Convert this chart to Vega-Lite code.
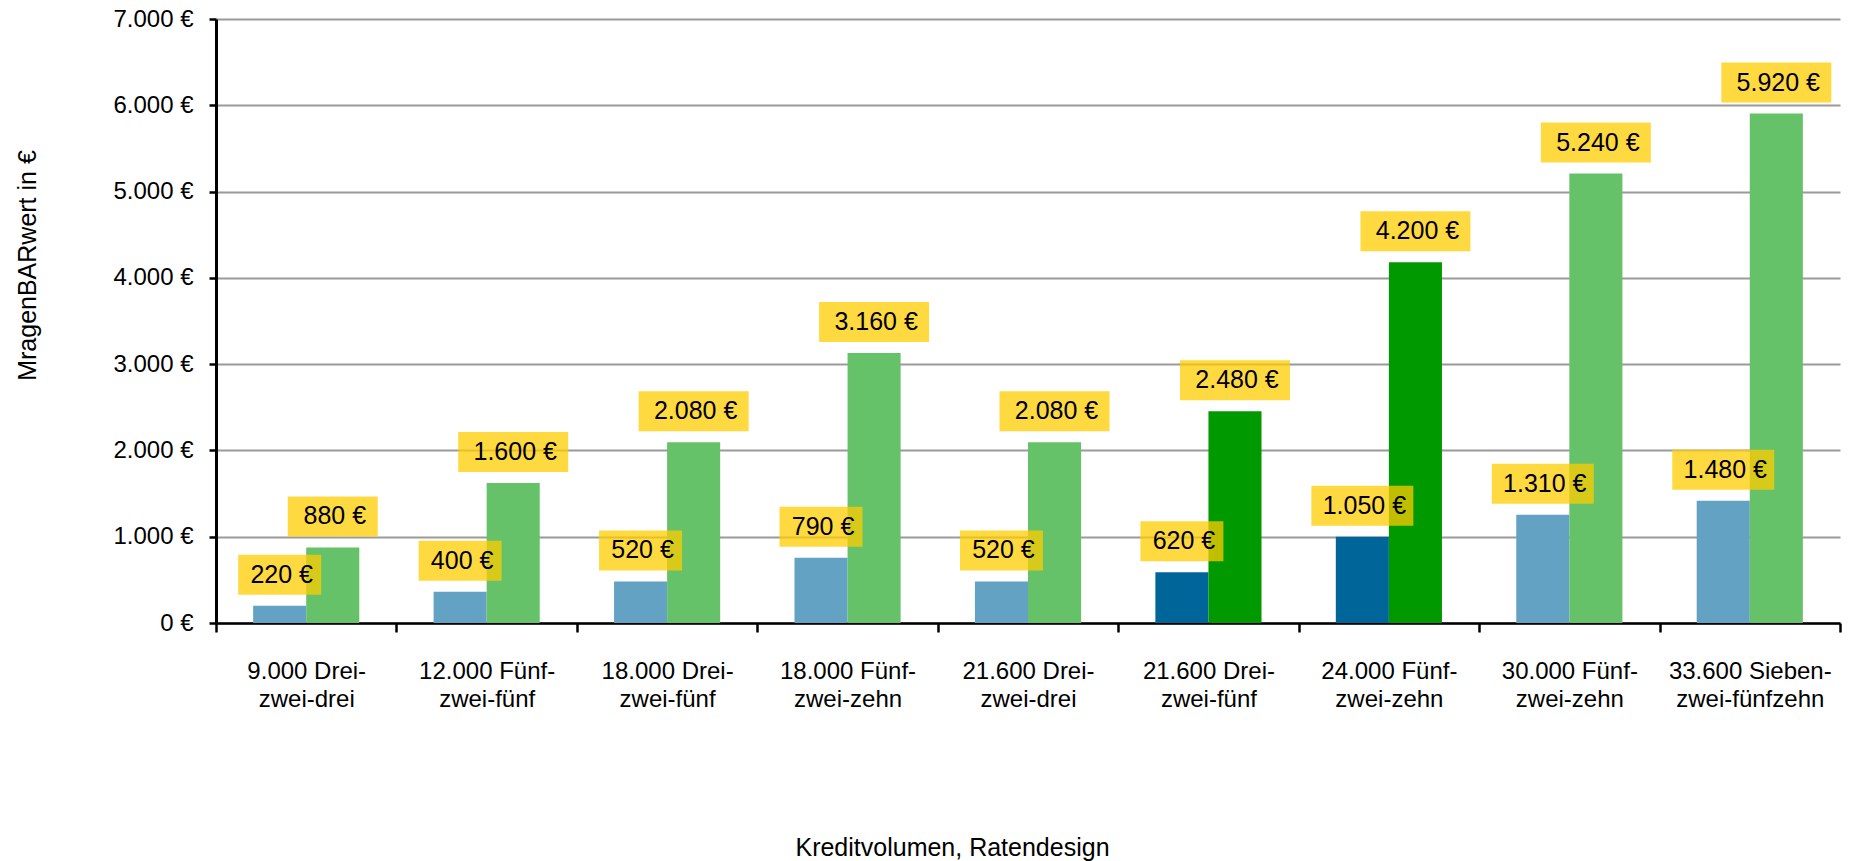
{
  "$schema": "https://vega.github.io/schema/vega-lite/v6.json",
  "width": 1624,
  "height": 604,
  "autosize": "none",
  "padding": {"left": 216, "top": 19, "right": 10, "bottom": 238},
  "background": "white",
  "config": {
    "locale": {"number": {"decimal": ",", "thousands": ".", "grouping": [3], "currency": ["", " €"]}},
    "font": "Liberation Sans",
    "view": {"stroke": null}
  },
  "data": {
    "values": [
      {"kat": "9.000 Drei-zwei-drei", "serie": "Serie 1", "gruppe": "Serie 1", "wert": 200, "label": 220},
      {"kat": "9.000 Drei-zwei-drei", "serie": "Serie 2", "gruppe": "Serie 2", "wert": 876, "label": 880},
      {"kat": "12.000 Fünf-zwei-fünf", "serie": "Serie 1", "gruppe": "Serie 1", "wert": 363, "label": 400},
      {"kat": "12.000 Fünf-zwei-fünf", "serie": "Serie 2", "gruppe": "Serie 2", "wert": 1623, "label": 1600},
      {"kat": "18.000 Drei-zwei-fünf", "serie": "Serie 1", "gruppe": "Serie 1", "wert": 482, "label": 520},
      {"kat": "18.000 Drei-zwei-fünf", "serie": "Serie 2", "gruppe": "Serie 2", "wert": 2094, "label": 2080},
      {"kat": "18.000 Fünf-zwei-zehn", "serie": "Serie 1", "gruppe": "Serie 1", "wert": 757, "label": 790},
      {"kat": "18.000 Fünf-zwei-zehn", "serie": "Serie 2", "gruppe": "Serie 2", "wert": 3130, "label": 3160},
      {"kat": "21.600 Drei-zwei-drei", "serie": "Serie 1", "gruppe": "Serie 1", "wert": 482, "label": 520},
      {"kat": "21.600 Drei-zwei-drei", "serie": "Serie 2", "gruppe": "Serie 2", "wert": 2094, "label": 2080},
      {"kat": "21.600 Drei-zwei-fünf", "serie": "Serie 1", "gruppe": "Serie 1 markiert", "wert": 587, "label": 620},
      {"kat": "21.600 Drei-zwei-fünf", "serie": "Serie 2", "gruppe": "Serie 2 markiert", "wert": 2453, "label": 2480},
      {"kat": "24.000 Fünf-zwei-zehn", "serie": "Serie 1", "gruppe": "Serie 1 markiert", "wert": 1000, "label": 1050},
      {"kat": "24.000 Fünf-zwei-zehn", "serie": "Serie 2", "gruppe": "Serie 2 markiert", "wert": 4180, "label": 4200},
      {"kat": "30.000 Fünf-zwei-zehn", "serie": "Serie 1", "gruppe": "Serie 1", "wert": 1255, "label": 1310},
      {"kat": "30.000 Fünf-zwei-zehn", "serie": "Serie 2", "gruppe": "Serie 2", "wert": 5209, "label": 5240},
      {"kat": "33.600 Sieben-zwei-fünfzehn", "serie": "Serie 1", "gruppe": "Serie 1", "wert": 1418, "label": 1480},
      {"kat": "33.600 Sieben-zwei-fünfzehn", "serie": "Serie 2", "gruppe": "Serie 2", "wert": 5904, "label": 5920}
    ]
  },
  "encoding": {
    "x": {
      "field": "kat",
      "type": "nominal",
      "sort": null,
      "scale": {"paddingInner": 0, "paddingOuter": 0},
      "title": "Kreditvolumen, Ratendesign",
      "axis": {
        "labelExpr": "isString(datum.value) ? [slice(datum.value, 0, indexof(datum.value, '-') + 1), slice(datum.value, indexof(datum.value, '-') + 1)] : ''",
        "labelAngle": 0,
        "labelFontSize": 24,
        "labelLineHeight": 28,
        "labelPadding": 27,
        "labelColor": "black",
        "tickBand": "extent",
        "tickSize": 9,
        "tickColor": "black",
        "tickWidth": 2.5,
        "domainColor": "black",
        "domainWidth": 2.5,
        "titleFontSize": 25,
        "titleFontWeight": "normal",
        "titleColor": "black",
        "titleX": 736,
        "titleY": 232,
        "titleAlign": "center",
        "titleBaseline": "alphabetic"
      }
    },
    "xOffset": {"field": "serie", "type": "nominal", "scale": {"paddingInner": 0, "paddingOuter": 0.7}},
    "y": {
      "field": "wert",
      "type": "quantitative",
      "scale": {"domain": [0, 7000]},
      "title": "MragenBARwert in €",
      "axis": {
        "values": [0, 1000, 2000, 3000, 4000, 5000, 6000, 7000],
        "format": "$,d",
        "labelFontSize": 24,
        "labelColor": "black",
        "labelPadding": 16,
        "tickSize": 7,
        "tickColor": "black",
        "tickWidth": 2.5,
        "domainColor": "black",
        "domainWidth": 3,
        "grid": true,
        "gridColor": "#9a9a9a",
        "gridWidth": 2,
        "titleFontSize": 25,
        "titleFontWeight": "normal",
        "titleColor": "black",
        "titleX": -189,
        "titleY": 246,
        "titleAngle": -90,
        "titleAlign": "center",
        "titleBaseline": "middle"
      }
    }
  },
  "layer": [
    {
      "mark": {"type": "bar"},
      "encoding": {
        "color": {
          "field": "gruppe",
          "type": "nominal",
          "scale": {"domain": ["Serie 1", "Serie 2", "Serie 1 markiert", "Serie 2 markiert"], "range": ["#63A2C2", "#65C268", "#006699", "#009900"]},
          "legend": null
        }
      }
    },
    {
      "transform": [{"filter": "datum.serie == 'Serie 1' && datum.label < 1000"}],
      "mark": {"type": "point", "shape": "M-1,-1.229H1V-0.265H-1Z", "size": 6889, "filled": true, "color": "#FFCC00", "opacity": 0.75, "strokeWidth": 0}
    },
    {
      "transform": [{"filter": "datum.serie == 'Serie 2' && datum.label < 1000"}],
      "mark": {"type": "point", "shape": "M-1,-1.133H1V-0.244H-1Z", "size": 8100, "filled": true, "color": "#FFCC00", "opacity": 0.75, "strokeWidth": 0}
    },
    {
      "transform": [{"filter": "datum.serie == 'Serie 1' && datum.label >= 1000"}],
      "mark": {"type": "point", "shape": "M-1,-1H1V-0.216H-1Z", "size": 10404, "filled": true, "color": "#FFCC00", "opacity": 0.75, "strokeWidth": 0}
    },
    {
      "transform": [{"filter": "datum.serie == 'Serie 2' && datum.label >= 1000"}],
      "mark": {"type": "point", "shape": "M-1,-0.927H1V-0.2H-1Z", "size": 12100, "filled": true, "color": "#FFCC00", "opacity": 0.75, "strokeWidth": 0}
    },
    {
      "mark": {"type": "text", "dy": -31, "dx": 2, "baseline": "middle", "align": "center", "fontSize": 25, "color": "black"},
      "encoding": {
        "text": {"field": "label", "type": "quantitative", "format": "$,d"}
      }
    }
  ]
}
